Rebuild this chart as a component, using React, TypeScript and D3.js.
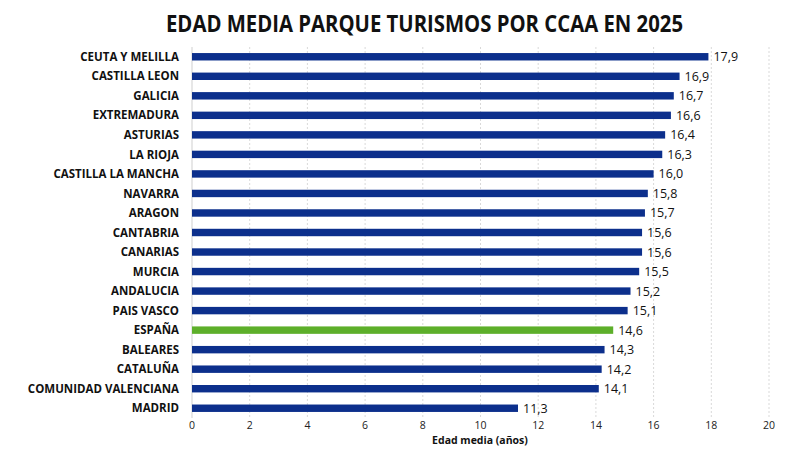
import * as d3 from "d3";

const regions = [
  "CEUTA Y MELILLA",
  "CASTILLA LEON",
  "GALICIA",
  "EXTREMADURA",
  "ASTURIAS",
  "LA RIOJA",
  "CASTILLA LA MANCHA",
  "NAVARRA",
  "ARAGON",
  "CANTABRIA",
  "CANARIAS",
  "MURCIA",
  "ANDALUCIA",
  "PAIS VASCO",
  "ESPAÑA",
  "BALEARES",
  "CATALUÑA",
  "COMUNIDAD VALENCIANA",
  "MADRID",
];
const ages = [
  17.9, 16.9, 16.7, 16.6, 16.4, 16.3, 16.0, 15.8, 15.7, 15.6, 15.6, 15.5, 15.2,
  15.1, 14.6, 14.3, 14.2, 14.1, 11.3,
];
const xTicks = [0, 2, 4, 6, 8, 10, 12, 14, 16, 18, 20];
const highlight = "ESPAÑA";

const W = 800;
const H = 450;
const font = "'Open Sans', sans-serif";

export default function App() {
  const x = d3.scaleLinear().domain([0, 20]).range([192, 769]);
  const y = d3.scaleBand().domain(regions).range([47, 418]).paddingInner(0.62).paddingOuter(0.31);
  const bh = y.bandwidth();

  return (
    <svg
      width={W}
      height={H}
      style={{ position: "absolute", left: 0, top: 0, background: "#fff" }}
      fontFamily={font}
    >
      <text
        x={166}
        y={32}
        fontSize={23}
        fontWeight={700}
        fill="#111"
        textLength={517}
        lengthAdjust="spacingAndGlyphs"
      >
        EDAD MEDIA PARQUE TURISMOS POR CCAA EN 2025
      </text>
      {xTicks.slice(1).map((t) => (
        <line
          key={t}
          x1={x(t)}
          x2={x(t)}
          y1={47}
          y2={418}
          stroke="#d9d9d9"
          strokeWidth={1}
          strokeDasharray="2,2"
        />
      ))}
      <line x1={x(0)} x2={x(0)} y1={47} y2={418} stroke="#cfcfcf" strokeWidth={1} />
      {regions.map((r, i) => {
        const yy = y(r)!;
        return (
          <g key={r}>
            <text
              x={179}
              y={yy + bh / 2}
              dy="0.36em"
              textAnchor="end"
              fontSize={11.5}
              fontWeight={700}
              fill="#111"
            >
              {r}
            </text>
            <rect
              x={x(0)}
              y={yy}
              width={x(ages[i]) - x(0)}
              height={bh}
              fill={r === highlight ? "#5daf2a" : "#0c2f8c"}
            />
            <text
              x={x(ages[i]) + 5}
              y={yy + bh / 2}
              dy="0.36em"
              fontSize={12.5}
              fill="#111"
            >
              {d3.format(".1f")(ages[i]).replace(".", ",")}
            </text>
          </g>
        );
      })}
      {xTicks.map((t) => (
        <text key={t} x={x(t)} y={429} textAnchor="middle" fontSize={10.5} fill="#222">
          {t}
        </text>
      ))}
      <text x={480} y={444} textAnchor="middle" fontSize={10.5} fontWeight={700} fill="#111">
        Edad media (años)
      </text>
    </svg>
  );
}
